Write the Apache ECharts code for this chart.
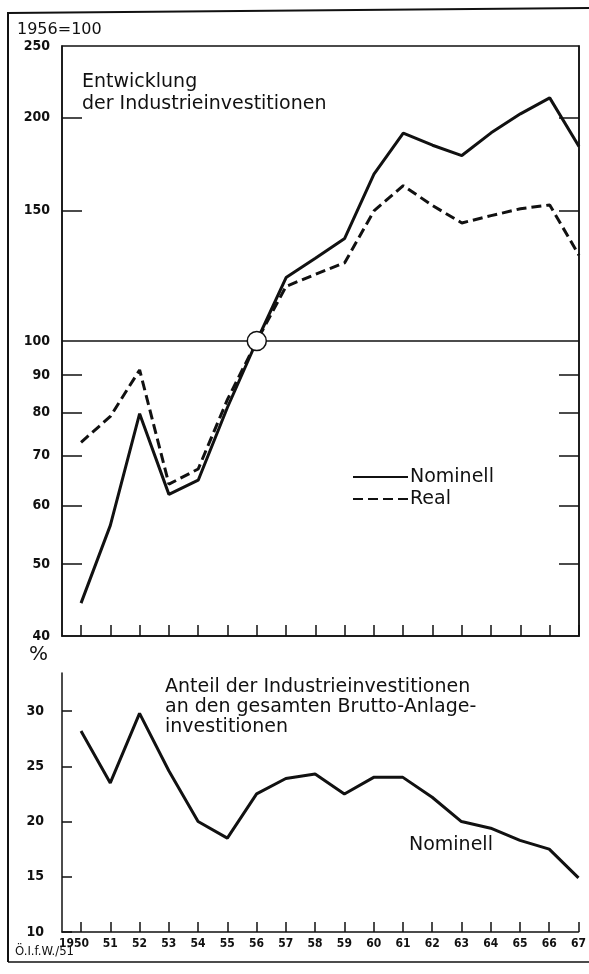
<!DOCTYPE html>
<html>
<head>
<meta charset="utf-8">
<script src="https://cdn.jsdelivr.net/npm/echarts@6/dist/echarts.min.js"></script>
<style>
html,body{margin:0;padding:0;background:#fff;}
#c{width:589px;height:974px;}
</style>
</head>
<body>
<div id="c"></div>
<script>
// ---- data ----
const years = [1950,1951,1952,1953,1954,1955,1956,1957,1958,1959,1960,1961,1962,1963,1964,1965,1966,1967];
const yearLabels = ['1950','51','52','53','54','55','56','57','58','59','60','61','62','63','64','65','66','67'];
const nominell = [44.3,56.4,79.8,62.1,64.9,81.4,100,121.8,129.3,137.5,167.9,190.7,183.7,177.9,190.9,202.5,212.8,183];
const real =     [73,79.1,91.4,64.1,67.2,83.4,100,118.5,123,127.5,149.8,162,152.3,144.3,147.6,150.8,152.6,130.5];
const anteil =   [28.2,23.5,29.8,24.6,20.0,18.5,22.5,23.9,24.3,22.5,24.0,24.0,22.2,20.0,19.4,18.3,17.5,14.9];
const topLabelValues = [40,50,60,70,80,90,100,150,200,250];
const topTickValues = [50,60,70,80,90,150,200];
const bottomLabelValues = [10,15,20,25,30];
const baseValue = [1956,100];

const INK = '#111';
const txtFont = '"DejaVu Sans", sans-serif';
const numFont = '"DejaVu Sans Condensed", "DejaVu Sans", sans-serif';
const lg = Math.log10;

const chart = echarts.init(document.getElementById('c'), null, {renderer:'canvas'});

const xCommon = {
  type:'value', min:1949.35, max:1967,
  splitLine:{show:false},
  axisLine:{show:true, onZero:false, lineStyle:{color:INK, width:1.5}},
};

const option = {
  backgroundColor:'#fff',
  animation:false,
  legend:{
    data:['Nominell','Real'],
    orient:'vertical',
    left:347, top:461,
    itemWidth:55, itemHeight:14, itemGap:0,
    selectedMode:false,
    itemStyle:{opacity:0},
    textStyle:{fontFamily:txtFont, fontSize:19, color:INK, lineHeight:22, padding:[0,0,0,-3]}
  },
  grid:[
    {left:62, right:10, top:46, height:590, show:true, borderColor:INK, borderWidth:1.5, backgroundColor:'transparent'},
    {left:62, right:9, top:673, height:259}
  ],
  xAxis:[
    Object.assign({}, xCommon, {
      gridIndex:0,
      axisTick:{show:true, inside:true, length:11, customValues:years, lineStyle:{color:INK, width:1.5}},
      axisLabel:{show:false}
    }),
    Object.assign({}, xCommon, {
      gridIndex:1,
      axisTick:{show:true, inside:true, length:10, customValues:years, lineStyle:{color:INK, width:1.5}},
      axisLabel:{
        show:true, customValues:years, margin:6,
        fontFamily:numFont, fontWeight:'bold', fontSize:12, color:INK,
        formatter:function(v){
          const i = years.indexOf(Math.round(v));
          const s = i >= 0 ? yearLabels[i] : '';
          return i === 0 ? '{f|' + s + '}' : s;
        },
        rich:{f:{fontFamily:numFont, fontWeight:'bold', fontSize:12, color:INK, padding:[0,14,0,0]}}
      }
    })
  ],
  yAxis:[
    { // data scale (log)
      type:'log', logBase:10, min:40, max:250, gridIndex:0,
      axisLine:{show:false}, axisTick:{show:false}, axisLabel:{show:false}, splitLine:{show:false}
    },
    { // left tick/label axis in log space
      type:'value', gridIndex:0, position:'left',
      min:lg(40), max:lg(250),
      splitLine:{show:false},
      axisLine:{show:true, lineStyle:{color:INK, width:1.5}},
      axisTick:{show:true, inside:true, length:20, customValues:topTickValues.map(lg), lineStyle:{color:INK, width:1.5}},
      axisLabel:{show:true, customValues:topLabelValues.map(lg), margin:12,
        fontFamily:numFont, fontWeight:'bold', fontSize:14, color:INK,
        formatter:function(v){ return String(Math.round(Math.pow(10, v))); }}
    },
    { // right tick axis
      type:'value', gridIndex:0, position:'right',
      min:lg(40), max:lg(250),
      splitLine:{show:false},
      axisLine:{show:true, lineStyle:{color:INK, width:1.5}},
      axisTick:{show:true, inside:true, length:20, customValues:topTickValues.map(lg), lineStyle:{color:INK, width:1.5}},
      axisLabel:{show:false}
    },
    { // bottom panel
      type:'value', gridIndex:1, position:'left',
      min:10, max:33.45,
      splitLine:{show:false},
      axisLine:{show:true, lineStyle:{color:INK, width:1.5}},
      axisTick:{show:true, inside:true, length:10, customValues:bottomLabelValues, lineStyle:{color:INK, width:1.5}},
      axisLabel:{show:true, customValues:bottomLabelValues, margin:18,
        fontFamily:numFont, fontWeight:'bold', fontSize:14, color:INK}
    }
  ],
  series:[
    {
      name:'Nominell', type:'line', xAxisIndex:0, yAxisIndex:0,
      data:years.map((y,i)=>[y, nominell[i]]),
      symbol:'none', lineStyle:{color:INK, width:3, type:'solid'}, itemStyle:{color:INK},
      z:3,
      markLine:{
        silent:true, symbol:'none', label:{show:false},
        lineStyle:{color:INK, width:1.5, type:'solid'},
        data:[{yAxis:100}]
      }
    },
    {
      name:'Real', type:'line', xAxisIndex:0, yAxisIndex:0,
      data:years.map((y,i)=>[y, real[i]]),
      symbol:'none', lineStyle:{color:INK, width:3, type:[10,5]}, itemStyle:{color:INK},
      z:3
    },
    {
      name:'Basis', type:'scatter', xAxisIndex:0, yAxisIndex:0,
      data:[baseValue], symbol:'circle', symbolSize:19,
      itemStyle:{color:'#fff', borderColor:INK, borderWidth:1.5, opacity:1},
      z:5, silent:true
    },
    {
      name:'Anteil Nominell', type:'line', xAxisIndex:1, yAxisIndex:3,
      data:years.map((y,i)=>[y, anteil[i]]),
      symbol:'none', lineStyle:{color:INK, width:3}, itemStyle:{color:INK}
    }
  ],
  graphic:[
    // outer frame
    {type:'line', shape:{x1:8, y1:12, x2:8, y2:962}, style:{stroke:INK, lineWidth:2}, silent:true},
    {type:'line', shape:{x1:8, y1:13, x2:589, y2:8}, style:{stroke:INK, lineWidth:2}, silent:true},
    {type:'line', shape:{x1:8, y1:962, x2:589, y2:962}, style:{stroke:INK, lineWidth:1.5}, silent:true},
    {type:'text', left:17, top:22, style:{text:'1956=100', fontFamily:txtFont, fontSize:16, fill:INK}},
    {type:'text', left:82, top:71, style:{text:'Entwicklung\nder Industrieinvestitionen', fontFamily:txtFont, fontSize:19, lineHeight:22, fill:INK}},
    {type:'text', left:29, top:645, style:{text:'%', fontFamily:txtFont, fontSize:20, fill:INK}},
    {type:'text', left:165, top:677, style:{text:'Anteil der Industrieinvestitionen\nan den gesamten Brutto-Anlage-\ninvestitionen', fontFamily:txtFont, fontSize:19, lineHeight:20, fill:INK}},
    {type:'text', left:409, top:836, style:{text:'Nominell', fontFamily:txtFont, fontSize:19, fill:INK}},
    {type:'text', left:15, top:945, style:{text:'Ö.I.f.W./51', fontFamily:numFont, fontSize:13, fill:INK}}
  ]
};
chart.setOption(option);
</script>
</body>
</html>
